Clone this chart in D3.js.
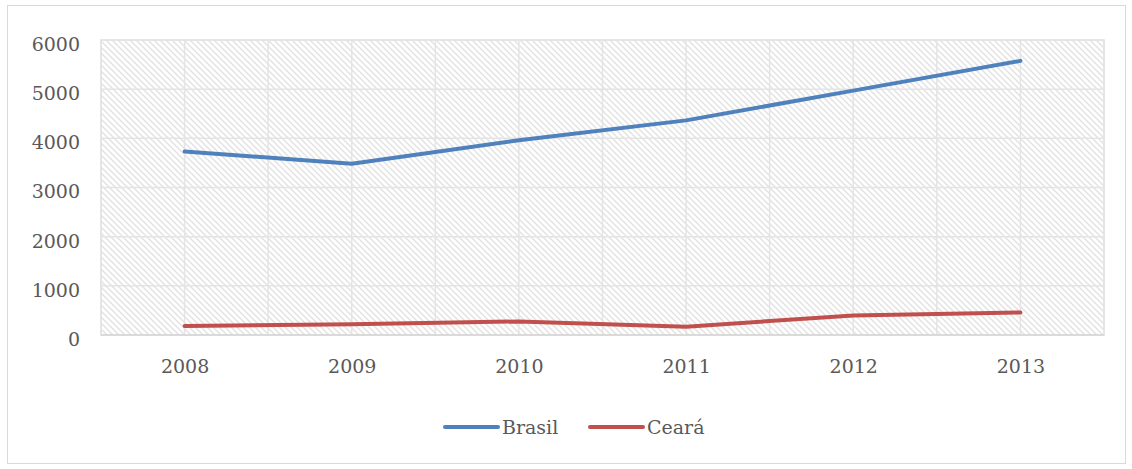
<!DOCTYPE html>
<html>
<head>
<meta charset="utf-8">
<script src="https://cdn.jsdelivr.net/npm/d3@7"></script>
<style>
  html, body { margin: 0; padding: 0; background: #fff; }
  svg { display: block; }
  text { font-family: "DejaVu Serif", serif; fill: #595959; }
</style>
</head>
<body>
<svg id="chart" width="1132" height="469"></svg>
<script>
// Years on the category axis
const years = ["2008", "2009", "2010", "2011", "2012", "2013"];
// Series values per year
const brasil = [3730, 3485, 3960, 4365, 4970, 5575];
const ceara = [185, 220, 275, 170, 395, 460];
// Value axis ticks
const yTicks = [0, 1000, 2000, 3000, 4000, 5000, 6000];
// Series names and colours
const seriesNames = ["Brasil", "Ceará"];
const seriesColors = ["#4f81bd", "#c0504d"];

const svg = d3.select("#chart");
const plot = { left: 101, right: 1104, top: 40, bottom: 335 };

// Outer chart frame
svg.append("rect")
  .attr("x", 7.5).attr("y", 5.5)
  .attr("width", 1118).attr("height", 458)
  .attr("fill", "#fff").attr("stroke", "#d9d9d9").attr("stroke-width", 1);

// Diagonal hatch for the plot area
const defs = svg.append("defs");
const pat = defs.append("pattern")
  .attr("id", "hatch")
  .attr("patternUnits", "userSpaceOnUse")
  .attr("width", 6).attr("height", 6);
pat.append("rect").attr("width", 6).attr("height", 6).attr("fill", "#fff");
pat.append("path")
  .attr("d", "M0,0L6,6M-1,5L1,7M5,-1L7,1")
  .attr("stroke", "#e2e2e2").attr("stroke-width", 1.4);

const x = d3.scalePoint()
  .domain(years)
  .range([plot.left, plot.right])
  .padding(0.5);
const step = x.step();

const y = d3.scaleLinear()
  .domain([0, 6000])
  .range([plot.bottom, plot.top]);

svg.append("rect")
  .attr("x", plot.left).attr("y", plot.top)
  .attr("width", plot.right - plot.left).attr("height", plot.bottom - plot.top)
  .attr("fill", "url(#hatch)")
  .attr("stroke", "#e0e0e0").attr("stroke-width", 1.5);

// Horizontal gridlines
svg.append("g").selectAll("line")
  .data(yTicks)
  .join("line")
  .attr("x1", plot.left).attr("x2", plot.right)
  .attr("y1", d => y(d)).attr("y2", d => y(d))
  .attr("stroke", "#e4e4e4").attr("stroke-width", 1.5);

// Vertical gridlines at every half step
const vLines = d3.range(0, years.length * 2 + 1).map(k => plot.left + k * step / 2);
svg.append("g").selectAll("line")
  .data(vLines)
  .join("line")
  .attr("x1", d => d).attr("x2", d => d)
  .attr("y1", plot.top).attr("y2", plot.bottom)
  .attr("stroke", "#e4e4e4").attr("stroke-width", 1.5);

// Baseline
svg.append("line")
  .attr("x1", plot.left).attr("x2", plot.right)
  .attr("y1", y(0)).attr("y2", y(0))
  .attr("stroke", "#d6d6d6").attr("stroke-width", 1.5);

// Value axis
const yAxis = svg.append("g")
  .attr("transform", `translate(${plot.left - 21},0)`)
  .call(d3.axisLeft(y).tickValues(yTicks).tickSize(0).tickPadding(0).tickFormat(d3.format("d")));
yAxis.select(".domain").remove();
yAxis.selectAll("text")
  .attr("dy", "0.55em")
  .style("font-family", "DejaVu Serif, serif")
  .style("font-size", "19px")
  .style("fill", "#595959");

// Category axis
const xAxis = svg.append("g")
  .attr("transform", `translate(0,${plot.bottom})`)
  .call(d3.axisBottom(x).tickSize(0).tickPadding(25));
xAxis.select(".domain").remove();
xAxis.selectAll("text")
  .style("font-family", "DejaVu Serif, serif")
  .style("font-size", "19px")
  .style("fill", "#595959");

// Series lines
const line = d3.line()
  .x((d, i) => x(years[i]))
  .y(d => y(d));

[brasil, ceara].forEach((vals, i) => {
  svg.append("path")
    .datum(vals)
    .attr("d", line)
    .attr("fill", "none")
    .attr("stroke", seriesColors[i])
    .attr("stroke-width", 4)
    .attr("stroke-linejoin", "round")
    .attr("stroke-linecap", "round");
});

// Legend
const legendX = [445, 590];
const legend = svg.append("g");
seriesNames.forEach((name, i) => {
  const g = legend.append("g").attr("transform", `translate(${legendX[i]},427)`);
  g.append("line")
    .attr("x1", 0).attr("x2", 53).attr("y1", 0).attr("y2", 0)
    .attr("stroke", seriesColors[i]).attr("stroke-width", 4)
    .attr("stroke-linecap", "round");
  g.append("text")
    .attr("x", 57).attr("y", 7)
    .style("font-size", "19px")
    .text(name);
});
</script>
</body>
</html>
